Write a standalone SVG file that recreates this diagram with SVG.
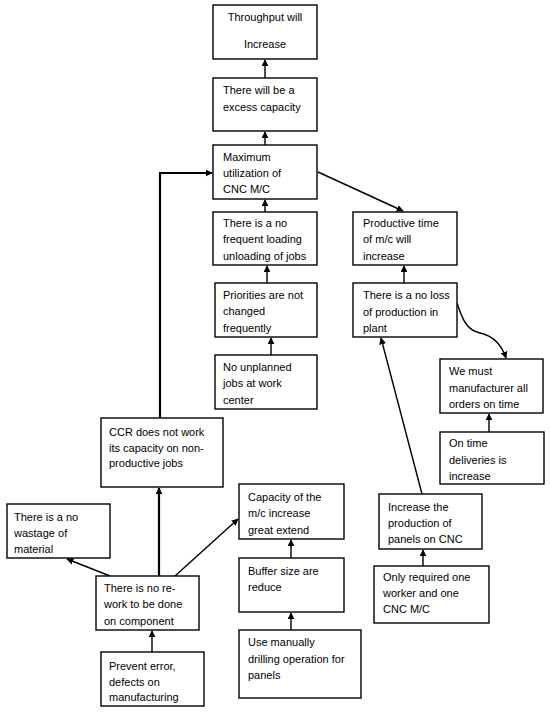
<svg xmlns="http://www.w3.org/2000/svg" width="550" height="712" viewBox="0 0 550 712">
<style>
.b{fill:#fff;stroke:#000;stroke-width:1.4}
text{font-family:"Liberation Sans",Arial,sans-serif;font-size:11px;fill:#000}
.c{fill:none;stroke:#000;stroke-width:1.4}
.t{fill:none;stroke:#000;stroke-width:2.2}
</style>
<defs>
<marker id="a" viewBox="0 0 10 10" refX="9" refY="5" markerWidth="7" markerHeight="7" markerUnits="userSpaceOnUse" orient="auto">
<path d="M0,0 L10,5 L0,10 z" fill="#000"/>
</marker>
</defs>
<rect width="550" height="712" fill="#fff"/>
<g id="connectors">
<line class="c" x1="265" y1="78" x2="265" y2="60" marker-end="url(#a)"/>
<line class="c" x1="265" y1="145" x2="265" y2="132" marker-end="url(#a)"/>
<line class="c" x1="265" y1="212" x2="265" y2="200" marker-end="url(#a)"/>
<line class="c" x1="267" y1="283" x2="267" y2="266" marker-end="url(#a)"/>
<line class="c" x1="271" y1="355" x2="271" y2="338" marker-end="url(#a)"/>
<polyline class="t" points="160,418 160,173 212,173" marker-end="url(#a)"/>
<line class="c" x1="318" y1="172" x2="403" y2="211" marker-end="url(#a)"/>
<line class="c" x1="404" y1="283" x2="404" y2="266" marker-end="url(#a)"/>
<path class="c" d="M457,303 C462,318 466,330 480,333 C494,336 502,346 506,358" marker-end="url(#a)"/>
<line class="c" x1="489" y1="432" x2="489" y2="414" marker-end="url(#a)"/>
<line class="c" x1="422" y1="494" x2="381" y2="338" marker-end="url(#a)"/>
<line class="c" x1="423" y1="566" x2="423" y2="550" marker-end="url(#a)"/>
<line class="t" x1="159" y1="576" x2="159" y2="488" marker-end="url(#a)"/>
<line class="c" x1="110" y1="576" x2="67" y2="559" marker-end="url(#a)"/>
<line class="c" x1="175" y1="576" x2="238" y2="519" marker-end="url(#a)"/>
<line class="c" x1="152" y1="652" x2="152" y2="631" marker-end="url(#a)"/>
<line class="c" x1="291" y1="558" x2="291" y2="540" marker-end="url(#a)"/>
<line class="c" x1="291" y1="630" x2="291" y2="613" marker-end="url(#a)"/>
</g>
<g id="n1"><rect class="b" x="213" y="5" width="104" height="54"/><text x="265" y="21" text-anchor="middle">Throughput will</text><text x="265" y="48" text-anchor="middle">Increase</text></g>
<g id="n2"><rect class="b" x="213" y="78" width="104" height="53"/><text x="223" y="94">There will be a</text><text x="223" y="111">excess capacity</text></g>
<g id="n3"><rect class="b" x="213" y="145" width="104" height="54"/><text x="223" y="161">Maximum</text><text x="223" y="177">utilization of</text><text x="223" y="193">CNC M/C</text></g>
<g id="n4"><rect class="b" x="213" y="212" width="104" height="53"/><text x="223" y="227">There is a no</text><text x="223" y="243">frequent loading</text><text x="223" y="260">unloading of jobs</text></g>
<g id="n5"><rect class="b" x="215" y="283" width="102" height="54"/><text x="223" y="299">Priorities are not</text><text x="223" y="315">changed</text><text x="223" y="332">frequently</text></g>
<g id="n6"><rect class="b" x="215" y="355" width="102" height="54"/><text x="223" y="371">No unplanned</text><text x="223" y="387">jobs at work</text><text x="223" y="404">center</text></g>
<g id="n7"><rect class="b" x="353" y="212" width="104" height="53"/><text x="363" y="227">Productive time</text><text x="363" y="243">of m/c will</text><text x="363" y="260">increase</text></g>
<g id="n8"><rect class="b" x="353" y="283" width="104" height="54"/><text x="363" y="299">There is a no loss</text><text x="363" y="316">of production in</text><text x="363" y="332">plant</text></g>
<g id="n9"><rect class="b" x="440" y="359" width="103" height="54"/><text x="449" y="375">We must</text><text x="449" y="392">manufacturer all</text><text x="449" y="408">orders on time</text></g>
<g id="n10"><rect class="b" x="440" y="432" width="104" height="52"/><text x="449" y="447">On time</text><text x="449" y="464">deliveries is</text><text x="449" y="480">increase</text></g>
<g id="n11"><rect class="b" x="101" y="418" width="122" height="69"/><text x="109" y="436">CCR does not work</text><text x="109" y="452">its capacity on non-</text><text x="109" y="467">productive jobs</text></g>
<g id="n12"><rect class="b" x="7" y="504" width="103" height="54"/><text x="14" y="521">There is a no</text><text x="14" y="537">wastage  of</text><text x="14" y="553">material</text></g>
<g id="n13"><rect class="b" x="96" y="576" width="103" height="54"/><text x="104" y="592">There is no re-</text><text x="104" y="608">work to be done</text><text x="104" y="625">on component</text></g>
<g id="n14"><rect class="b" x="101" y="652" width="103" height="54"/><text x="109" y="670">Prevent error,</text><text x="109" y="686">defects on</text><text x="109" y="701">manufacturing</text></g>
<g id="n15"><rect class="b" x="239" y="484" width="105" height="55"/><text x="248" y="501">Capacity of the</text><text x="248" y="517">m/c increase</text><text x="248" y="534">great extend</text></g>
<g id="n16"><rect class="b" x="239" y="558" width="105" height="54"/><text x="248" y="575">Buffer size are</text><text x="248" y="591">reduce</text></g>
<g id="n17"><rect class="b" x="239" y="630" width="122" height="68"/><text x="248" y="646">Use manually</text><text x="248" y="663">drilling operation for</text><text x="248" y="679">panels</text></g>
<g id="n18"><rect class="b" x="379" y="494" width="103" height="55"/><text x="388" y="511">Increase the</text><text x="388" y="527">production of</text><text x="388" y="543">panels on CNC</text></g>
<g id="n19"><rect class="b" x="374" y="566" width="115" height="57"/><text x="383" y="581">Only required one</text><text x="383" y="597">worker and one</text><text x="383" y="613">CNC M/C</text></g>
</svg>
